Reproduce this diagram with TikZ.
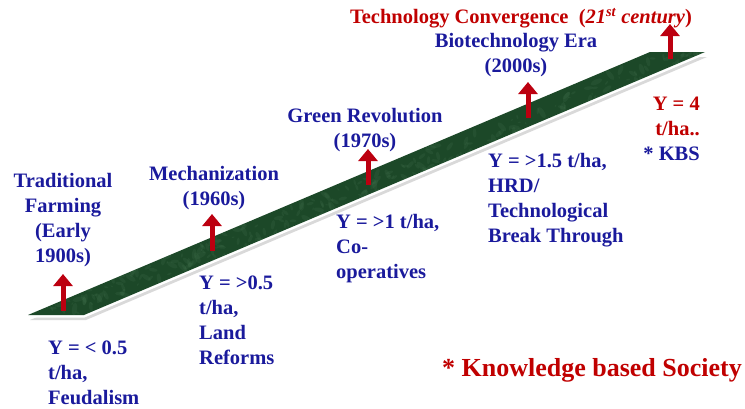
\documentclass[tikz,border=0pt]{standalone}
\usepackage{fontspec}
\setmainfont{Liberation Serif}
\usetikzlibrary{arrows.meta,calc}
\definecolor{navy}{HTML}{1A1A9C}
\definecolor{darkred}{HTML}{C00000}
\definecolor{arrred}{HTML}{BC0010}
\definecolor{bandgreen}{HTML}{1C4828}
\definecolor{bandlight}{HTML}{4F7F5A}
\tikzset{
  lbl/.style={inner sep=0pt, font=\bfseries\fontsize{20.5}{25}\selectfont, text=navy},
  redlbl/.style={lbl, text=darkred},
  uparrow/.style={draw=arrred, line width=5pt, -{Triangle[width=19pt,length=12pt]}},
}
\begin{document}
\begin{tikzpicture}[x=1pt,y=-1pt]
\useasboundingbox (0,0) rectangle (745,408);
% band corners
\coordinate (A) at (28,315);
\coordinate (B) at (84,315);
\coordinate (C) at (705,52);
\coordinate (D) at (650,52);
% shadow
\fill[black!15, line join=miter] ($(A)+(2,5)$) -- ($(B)+(2,5)$) -- ($(C)+(2,5)$) -- ($(D)+(2,5)$) -- cycle;
% white border
\filldraw[fill=white, draw=white, line width=5pt, line join=miter] (A) -- (B) -- (C) -- (D) -- cycle;
% band
\fill[bandgreen] (A) -- (B) -- (C) -- (D) -- cycle;
\begin{scope}
  \clip (A) -- (B) -- (C) -- (D) -- cycle;
  \pgfmathsetseed{11}
  \foreach \i in {1,...,260}{
    \pgfmathsetmacro{\t}{rnd}
    \pgfmathsetmacro{\ox}{28+\t*650+rnd*56}
    \pgfmathsetmacro{\oy}{315-\t*263-rnd*6}
    \pgfmathsetmacro{\rr}{1.5+rnd*5}
    \fill[bandlight, opacity=0.16, rotate around={rnd*180:(\ox,\oy)}] (\ox,\oy) ellipse ({\rr} and {\rr*0.4});
  }
\end{scope}
% arrows
\coordinate (a1s) at (63,311); \coordinate (a1e) at (63,274);
\coordinate (a2s) at (212,251); \coordinate (a2e) at (212,214);
\coordinate (a3s) at (368,185); \coordinate (a3e) at (368,149);
\coordinate (a4s) at (528,118); \coordinate (a4e) at (528,82);
\coordinate (a5s) at (670,59); \coordinate (a5e) at (670,24);
\foreach \n in {1,...,5}{ \draw[uparrow] (a\n s) -- (a\n e); }
% era labels
\node[lbl, align=center] (trad) at (63,220) {Traditional\\Farming\\(Early\\1900s)};
\node[lbl, align=center] (mech) at (214,188) {Mechanization\\(1960s)};
\node[lbl, align=center] (green) at (365,130) {Green Revolution\\(1970s)};
\node[lbl, align=center] (bio) at (516,55) {Biotechnology Era\\(2000s)};
\node[redlbl] (tech) at (521,18) {Technology Convergence\ \ (\textit{21\textsuperscript{st} century})};
% yield labels
\node[lbl, align=left, anchor=west] (y1) at (48,373) {Y = < 0.5\\t/ha,\\Feudalism};
\node[lbl, align=left, anchor=west] (y2) at (199,320) {Y = >0.5\\t/ha,\\Land\\Reforms};
\node[lbl, align=left, anchor=west] (y3) at (336,249) {Y = >1 t/ha,\\Co-\\operatives};
\node[lbl, align=left, anchor=west] (y4) at (488,200) {Y = >1.5 t/ha,\\HRD/\\Technological\\Break Through};
\node[lbl, align=right, anchor=east] (y5) at (700,129) {\textcolor{darkred}{Y = 4}\\\textcolor{darkred}{t/ha..}\\* KBS};
\node[redlbl, font=\bfseries\fontsize{26}{29}\selectfont, anchor=east] (kbs) at (742,370) {* Knowledge based Society};
\end{tikzpicture}
\end{document}
